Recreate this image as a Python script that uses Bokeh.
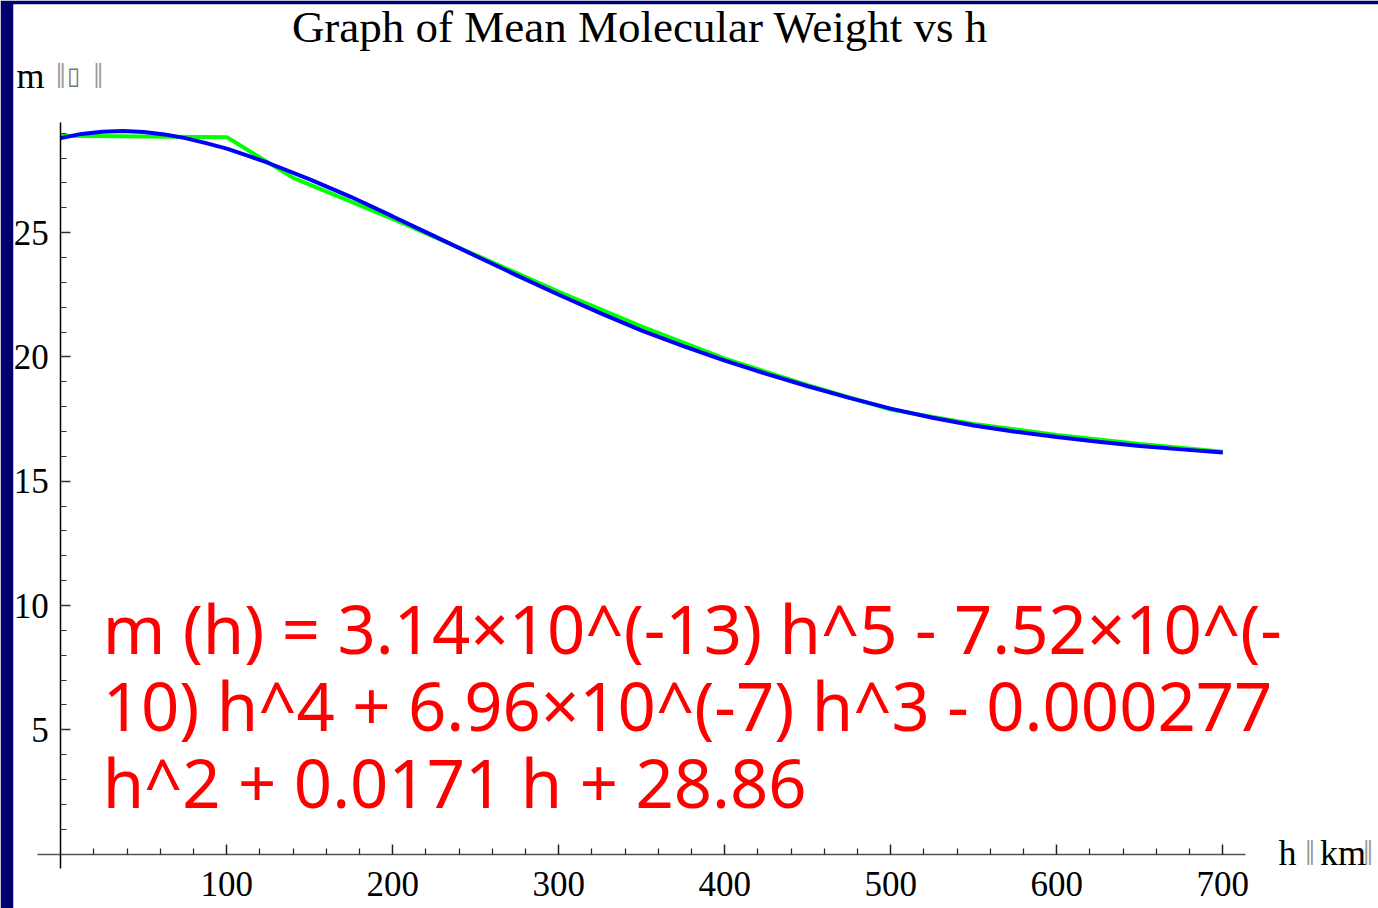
from bokeh.plotting import figure
from bokeh.models import Range1d, LinearAxis, FixedTicker
from bokeh.core.properties import value
from bokeh.embed import file_html
from bokeh.resources import INLINE

# Tabulated mean molecular weight (green)
h_data = [0, 100, 140, 200, 250, 300, 350, 400, 450, 500, 550, 600, 650, 700]
m_data = [28.9, 28.84, 27.2, 25.55, 24.1, 22.62, 21.22, 19.93, 18.86, 17.88, 17.3, 16.86, 16.5, 16.18]

# Polynomial fit (blue)
h_fit = [0, 12.5, 25, 37.5, 50, 62.5, 75, 87.5, 100, 112.5, 125, 150, 175, 200, 225,
         250, 275, 300, 325, 350, 375, 400, 425, 450, 475, 500, 525, 550, 575,
         600, 625, 650, 675, 700]
m_fit = [28.80, 28.97, 29.06, 29.09, 29.05, 28.95, 28.80, 28.60, 28.38, 28.10,
         27.80, 27.14, 26.43, 25.65, 24.86, 24.06, 23.27, 22.50, 21.76, 21.06,
         20.43, 19.85, 19.32, 18.82, 18.35, 17.92, 17.55, 17.24, 16.99, 16.78,
         16.59, 16.42, 16.28, 16.15]

x_ticks = [100, 200, 300, 400, 500, 600, 700]
x_minor = [v for v in range(20, 701, 20) if v % 100 != 0]
y_ticks = [5, 10, 15, 20, 25]
y_minor = [v for v in range(1, 30) if v % 5 != 0]

title_text = "Graph of Mean Molecular Weight vs h"
eq_lines = ["m (h) = 3.14×10^(-13) h^5 - 7.52×10^(-",
            "10) h^4 + 6.96×10^(-7) h^3 - 0.000277",
            "h^2 + 0.0171 h + 28.86"]

SERIF = value("Liberation Serif")

p = figure(width=1378, height=908,
           x_range=Range1d(-28.49, 793.8), y_range=Range1d(-2.188, 34.175),
           output_backend="svg", toolbar_location=None,
           x_axis_type=None, y_axis_type=None,
           min_border_left=13, min_border_top=4, min_border_right=0, min_border_bottom=0,
           border_fill_color="#00006e", background_fill_color="white",
           outline_line_color=None)
p.title.visible = False

xaxis = LinearAxis(fixed_location=0, bounds=(-14, 713.6),
                   ticker=FixedTicker(ticks=x_ticks, minor_ticks=x_minor))
xaxis.axis_line_color = "#555555"
xaxis.axis_line_width = 1.5
xaxis.major_tick_in = 10
xaxis.major_tick_out = 0
xaxis.minor_tick_in = 6
xaxis.minor_tick_out = 0
xaxis.major_tick_line_color = "#222222"
xaxis.minor_tick_line_color = "#222222"
xaxis.major_tick_line_width = 1.5
xaxis.minor_tick_line_width = 1.2
xaxis.major_label_text_font = "Liberation Serif"
xaxis.major_label_text_font_size = "35px"
xaxis.major_label_text_color = "black"
xaxis.major_label_standoff = 18
p.add_layout(xaxis, "below")

yaxis = LinearAxis(fixed_location=0, bounds=(-0.58, 29.43),
                   ticker=FixedTicker(ticks=y_ticks, minor_ticks=y_minor))
yaxis.axis_line_color = "black"
yaxis.axis_line_width = 1.5
yaxis.major_tick_in = 10
yaxis.major_tick_out = 0
yaxis.minor_tick_in = 6
yaxis.minor_tick_out = 0
yaxis.major_tick_line_color = "#333333"
yaxis.minor_tick_line_color = "#333333"
yaxis.major_tick_line_width = 1.5
yaxis.minor_tick_line_width = 1.2
yaxis.major_label_text_font = "Liberation Serif"
yaxis.major_label_text_font_size = "35px"
yaxis.major_label_text_color = "black"
yaxis.major_label_standoff = 12
p.add_layout(yaxis, "left")

p.line(h_data, m_data, line_color="#00ff00", line_width=4)
p.line(h_fit, m_fit, line_color="#0000ff", line_width=4)

# Title
p.text(x=[348.9], y=[33.25], text=[title_text], text_font=SERIF,
       text_font_size="45px", text_align="center", text_baseline="alphabetic",
       text_color="black")

# Axis labels
lab = dict(text_font=SERIF, text_font_size="36px", text_align="left",
           text_baseline="alphabetic")
p.text(x=[-26.7], y=[31.3], text=["m"], text_color="black", **lab)
p.text(x=[-3.0, 19.5], y=[31.3, 31.3], text=["‖", "‖"], text_color="#999999", **lab)
p.text(x=[4.0], y=[31.3], text=["▯"], text_color="#777777",
       text_font=SERIF, text_font_size="24px", text_align="left",
       text_baseline="alphabetic")
p.text(x=[733.6], y=[0.05], text=["h"], text_color="black", **lab)
p.text(x=[749.5, 784.5], y=[0.05, 0.05], text=["‖", "‖"], text_color="#999999", **lab)
p.text(x=[758.5], y=[0.05], text=["km"], text_color="black", **lab)

# Fit equation
p.text(x=[25.2, 25.2, 25.2], y=[9.1, 6.0, 2.9], text=eq_lines,
       text_font=value("Noto Sans"), text_font_size="67px", text_align="left",
       text_baseline="alphabetic", text_color="#ff0000")

open("out.html", "w").write(file_html(p, INLINE))
